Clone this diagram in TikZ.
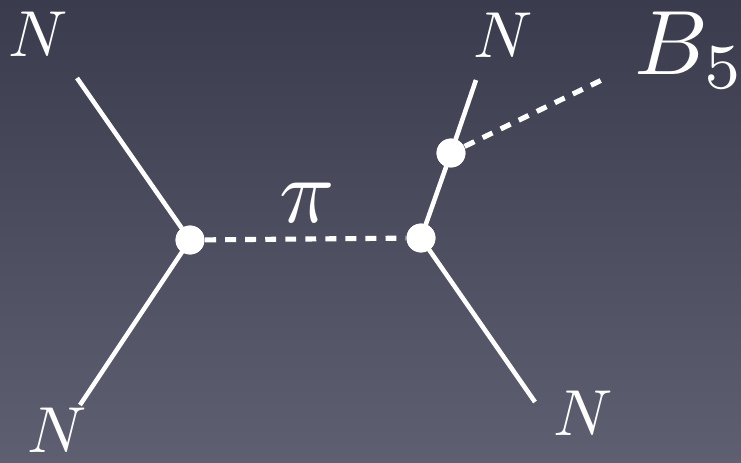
\documentclass[tikz,border=0pt]{standalone}
\usepackage{tikz}

\definecolor{slatetop}{RGB}{58,60,77}
\definecolor{slatebot}{RGB}{94,96,114}

\begin{document}
\begin{tikzpicture}[x=0.01cm, y=-0.01cm,
    line/.style={white, line width=1.3pt},
    scalar/.style={white, line width=1.45pt, dash pattern=on 3.1pt off 2.6pt},
    vertex/.style={circle, fill=white, inner sep=0pt, minimum size=8.2pt},
    lbl/.style={text=white, scale=1.85, inner sep=0pt},
    biglbl/.style={text=white, scale=2.6, inner sep=0pt}]
  \shade[top color=slatetop, bottom color=slatebot] (0,0) rectangle (741,463);
  \useasboundingbox (0,0) rectangle (741,463);
  % vertices
  \node[vertex] (vl) at (190,240) {};
  \node[vertex] (vr) at (421,238) {};
  \node[vertex] (vb) at (451,153) {};
  % free ends
  \coordinate (tl) at (77,78);
  \coordinate (bl) at (80,405);
  \coordinate (br) at (535,402);
  \coordinate (tr) at (476,80);
  \coordinate (be) at (608,77);
  % nucleon lines
  \draw[line] (tl) -- (vl.center) -- (bl);
  \draw[line] (br) -- (vr.center) -- (vb.center) -- (tr);
  \node[vertex] at (vl) {};
  \node[vertex] at (vr) {};
  \node[vertex] at (vb) {};
  % pion and boson
  \draw[scalar] (vl) -- (vr);
  \draw[scalar] (vb) -- (be);
  % labels
  \node[lbl] (ntl) at (38,34) {$N$};
  \node[lbl] (ntr) at (503,35) {$N$};
  \node[lbl] (nbr) at (583,413) {$N$};
  \node[lbl] (nbl) at (57,430) {$N$};
  \node[biglbl] (pi) at (307,203) {$\pi$};
  \node[biglbl, anchor=west] (b5) at (633,50) {$B_5$};
\end{tikzpicture}
\end{document}
